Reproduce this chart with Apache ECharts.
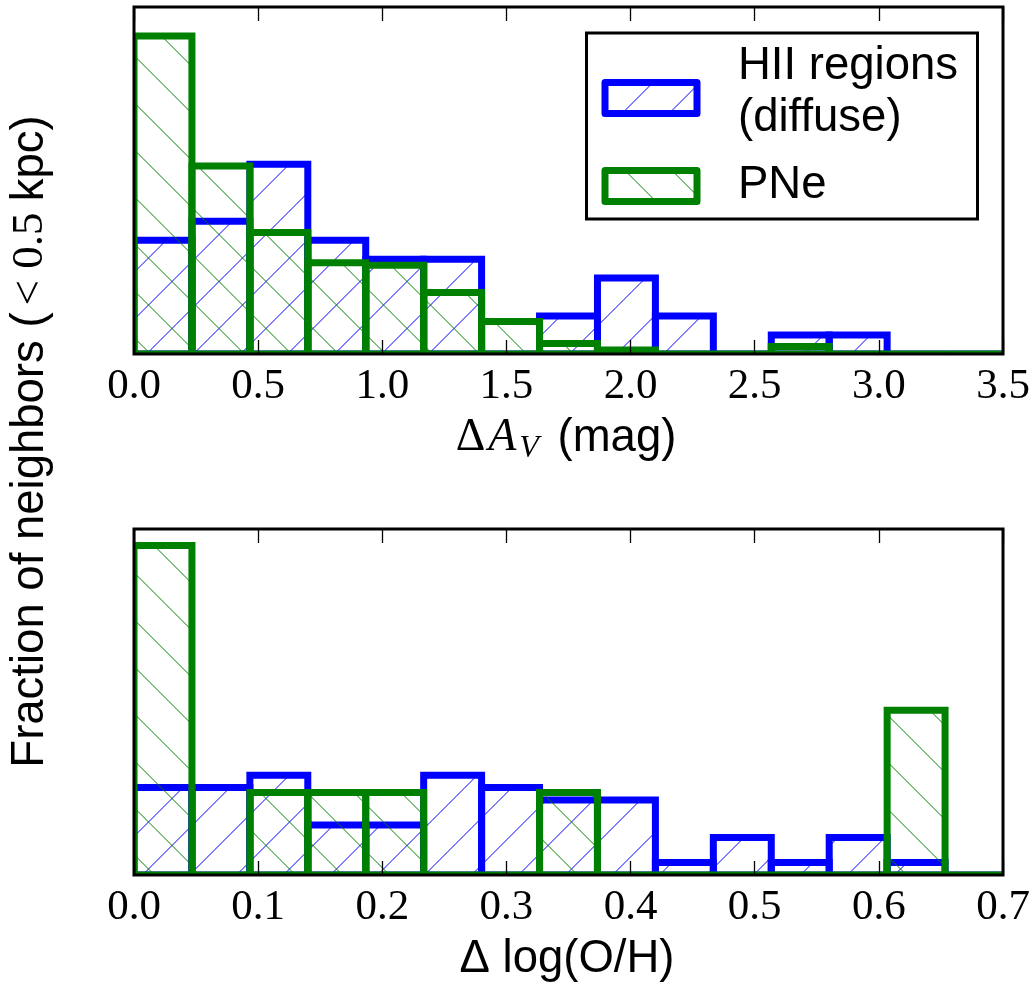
<!DOCTYPE html>
<html>
<head>
<meta charset="utf-8">
<script src="https://cdn.jsdelivr.net/npm/echarts@6/dist/echarts.min.js"></script>
<style>
html, body { margin: 0; padding: 0; background: #ffffff; }
#chart { width: 1034px; height: 985px; }
</style>
</head>
<body>
<div id="chart"></div>
<script>
// ---------------- data ----------------
const seriesNames = ['HII regions (diffuse)', 'PNe'];

// Top panel: Delta A_V (mag), 15 bins from 0 to 3.5 (normalised histograms)
const avBinStart = 0;
const avBinWidth = 3.5 / 15;
const avHII = [0.525, 0.612, 0.875, 0.525, 0.437, 0.437, 0, 0.175, 0.350, 0.175, 0, 0.0875, 0.0875, 0, 0];
const avPNe = [1.466, 0.867, 0.560, 0.421, 0.409, 0.284, 0.150, 0.048, 0.018, 0, 0, 0.035, 0, 0, 0];
const avTickLabels = ['0.0', '0.5', '1.0', '1.5', '2.0', '2.5', '3.0', '3.5'];

// Bottom panel: Delta log(O/H), 15 bins from 0 to 0.7
const ohBinStart = 0;
const ohBinWidth = 0.7 / 15;
const ohHII = [2.273, 2.273, 2.597, 1.299, 1.299, 2.597, 2.273, 1.948, 1.948, 0.325, 0.974, 0.325, 0.974, 0.325, 0];
const ohPNe = [8.571, 0, 2.143, 2.143, 2.143, 0, 0, 2.143, 0, 0, 0, 0, 0, 4.286, 0];
const ohTickLabels = ['0.0', '0.1', '0.2', '0.3', '0.4', '0.5', '0.6', '0.7'];

// ---------------- styling helpers ----------------
const BLUE = '#0000ff';
const GREEN = '#008000';
const SANS = '"Liberation Sans", Arial, Helvetica, sans-serif';
const SERIF = '"Liberation Serif", "Times New Roman", serif';
const SANS_SIZE = 45.5;

function hatch(color, dir, phase) {
  const S = 47;
  const c = document.createElement('canvas');
  c.width = S; c.height = S;
  const g = c.getContext('2d');
  g.strokeStyle = color;
  g.lineWidth = 1;
  for (let k = -2; k <= 3; k++) {
    const c0 = phase + k * S;
    g.beginPath();
    if (dir === '/') { g.moveTo(c0 + 10, -10); g.lineTo(c0 - S - 10, S + 10); }
    else { g.moveTo(c0 - 10, -10); g.lineTo(c0 + S + 10, S + 10); }
    g.stroke();
  }
  return { image: c, repeat: 'repeat' };
}

function binData(start, width, vals) {
  return vals.map((v, i) => [start + i * width, start + (i + 1) * width, v]);
}

function histSeries(name, xi, yi, start, width, vals, color, dir, z) {
  const pattern = hatch(color, dir, dir === '/' ? 30.5 : 31.5);
  return {
    name: name, type: 'custom', xAxisIndex: xi, yAxisIndex: yi,
    silent: true, clip: true, z: z, animation: false,
    encode: { x: [0, 1], y: 2 },
    data: binData(start, width, vals),
    renderItem: function (params, api) {
      const p0 = api.coord([api.value(0), api.value(2)]);
      const p1 = api.coord([api.value(1), 0]);
      return {
        type: 'rect',
        shape: { x: p0[0], y: p0[1], width: p1[0] - p0[0], height: p1[1] - p0[1] },
        style: { fill: pattern, stroke: color, lineWidth: 7, lineJoin: 'miter' }
      };
    }
  };
}

function xAxes(grid, max, interval, labels) {
  const common = {
    gridIndex: grid, type: 'value', min: 0, max: max, interval: interval,
    axisLine: { show: false },
    axisTick: { show: true, inside: true, length: 14, lineStyle: { color: '#000', width: 1.3 } },
    splitLine: { show: false },
    z: 10
  };
  return [
    Object.assign({}, common, {
      position: 'bottom',
      axisLabel: {
        show: true, margin: 11, fontFamily: SERIF, fontSize: 43, color: '#000',
        showMinLabel: true, showMaxLabel: true, hideOverlap: false,
        formatter: v => labels[Math.round(v / interval)]
      }
    }),
    Object.assign({}, common, { position: 'top', axisLabel: { show: false } })
  ];
}

const chart = echarts.init(document.getElementById('chart'), null, { renderer: 'canvas' });

const gridCommon = { left: 134, width: 869, show: true, borderColor: '#000', borderWidth: 3,
  backgroundColor: 'transparent', z: 10, outerBoundsMode: 'none', containLabel: false };

const whiteStrips = [];
[[7, 347], [529, 346]].forEach(([top, h]) => {
  const bottom = top + h;
  whiteStrips.push({ type: 'rect', z: 9, silent: true, shape: { x: 120, y: top - 6, width: 12.5, height: h + 14 }, style: { fill: '#fff' } });
  whiteStrips.push({ type: 'rect', z: 9, silent: true, shape: { x: 1004.5, y: top - 6, width: 12, height: h + 14 }, style: { fill: '#fff' } });
  whiteStrips.push({ type: 'rect', z: 9, silent: true, shape: { x: 120, y: bottom + 1.5, width: 900, height: 6 }, style: { fill: '#fff' } });
});

const option = {
  backgroundColor: '#ffffff',
  animation: false,
  grid: [
    Object.assign({}, gridCommon, { top: 7, height: 347 }),
    Object.assign({}, gridCommon, { top: 529, height: 346 })
  ],
  xAxis: [].concat(xAxes(0, 3.5, 0.5, avTickLabels), xAxes(1, 0.7, 0.1, ohTickLabels)),
  yAxis: [
    { gridIndex: 0, type: 'value', min: 0, max: 1.6, show: false },
    { gridIndex: 1, type: 'value', min: 0, max: 9, show: false }
  ],
  series: [
    histSeries(seriesNames[0], 0, 0, avBinStart, avBinWidth, avHII, BLUE, '/', 2),
    histSeries(seriesNames[1], 0, 0, avBinStart, avBinWidth, avPNe, GREEN, '\\', 3),
    histSeries(seriesNames[0], 2, 1, ohBinStart, ohBinWidth, ohHII, BLUE, '/', 2),
    histSeries(seriesNames[1], 2, 1, ohBinStart, ohBinWidth, ohPNe, GREEN, '\\', 3)
  ],
  graphic: whiteStrips.concat([
    // legend box
    { type: 'rect', z: 12, silent: true, shape: { x: 586.5, y: 33, width: 391, height: 186 },
      style: { fill: '#fff', stroke: '#000', lineWidth: 3 } },
    { type: 'rect', z: 13, silent: true, shape: { x: 605, y: 82.5, width: 92, height: 31 },
      style: { fill: hatch(BLUE, '/', 30.5), stroke: BLUE, lineWidth: 7, lineJoin: 'round' } },
    { type: 'rect', z: 13, silent: true, shape: { x: 605, y: 170.5, width: 92, height: 31 },
      style: { fill: hatch(GREEN, '\\', 31.5), stroke: GREEN, lineWidth: 7, lineJoin: 'round' } },
    { type: 'text', z: 13, silent: true, x: 738, y: 66.5,
      style: { text: 'HII regions', font: SANS_SIZE + 'px ' + SANS, fill: '#000', align: 'left', verticalAlign: 'middle' } },
    { type: 'text', z: 13, silent: true, x: 738, y: 118,
      style: { text: '(diffuse)', font: SANS_SIZE + 'px ' + SANS, fill: '#000', align: 'left', verticalAlign: 'middle' } },
    { type: 'text', z: 13, silent: true, x: 738, y: 185,
      style: { text: 'PNe', font: SANS_SIZE + 'px ' + SANS, fill: '#000', align: 'left', verticalAlign: 'middle' } },
    // x axis titles
    { type: 'text', z: 13, silent: true, x: 566, y: 438,
      style: {
        text: '{d|Δ}{a|A}{v|V}{s| (mag)}',
        align: 'center', verticalAlign: 'middle',
        rich: {
          d: { fontFamily: SERIF, fontSize: 46, fill: '#000', padding: [0, 3, 0, 0] },
          a: { fontFamily: SERIF, fontStyle: 'italic', fontSize: 46, fill: '#000', padding: [0, 3, 0, 0] },
          v: { fontFamily: SERIF, fontStyle: 'italic', fontSize: 32, fill: '#000', padding: [22, 6, 0, 0] },
          s: { fontFamily: SANS, fontSize: SANS_SIZE, fill: '#000' }
        }
      } },
    { type: 'text', z: 13, silent: true, x: 567, y: 959,
      style: { text: 'Δ log(O/H)', font: SANS_SIZE + 'px ' + SANS, fill: '#000', align: 'center', verticalAlign: 'middle' } },
    // y axis title
    { type: 'text', z: 13, silent: true, x: 30, y: 441.5, rotation: Math.PI / 2,
      style: {
        text: '{s|Fraction of neighbors (}{m|< 0.5 }{s|kpc)}',
        align: 'center', verticalAlign: 'middle',
        rich: {
          s: { fontFamily: SANS, fontSize: SANS_SIZE, fill: '#000' },
          m: { fontFamily: SERIF, fontSize: 45, fill: '#000', padding: [0, 0, 0, 7] }
        }
      } }
  ])
};

chart.setOption(option);
</script>
</body>
</html>
